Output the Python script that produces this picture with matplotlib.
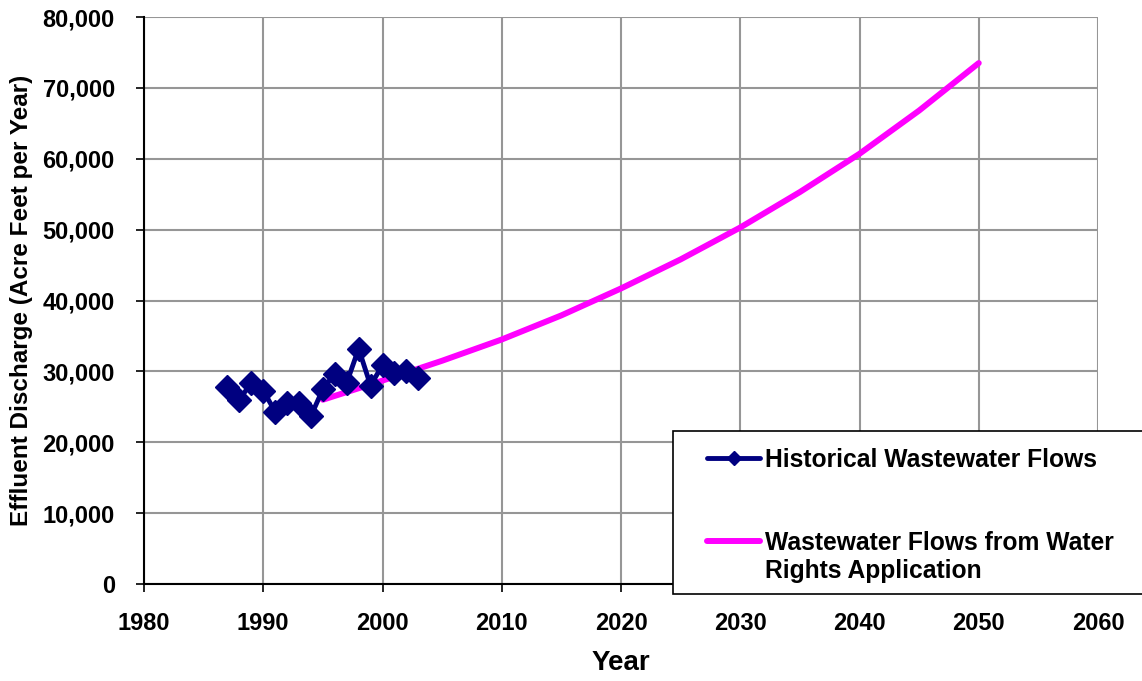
import matplotlib
matplotlib.use("Agg")
import matplotlib.pyplot as plt
from matplotlib.lines import Line2D
from matplotlib.patches import Rectangle
from matplotlib.ticker import FuncFormatter, MultipleLocator

plt.rcParams["font.family"] = ["Liberation Sans", "DejaVu Sans"]
plt.rcParams["font.weight"] = "bold"

# Historical effluent discharge (acre-feet per year)
hist_years = [1987, 1988, 1989, 1990, 1991, 1992, 1993, 1994, 1995,
              1996, 1997, 1998, 1999, 2000, 2001, 2002, 2003]
hist_flow = [27800, 26000, 28400, 27300, 24300, 25600, 25600, 23700, 27500,
             29700, 28400, 33200, 28000, 30900, 29800, 30100, 29000]

# Projected flows from the water rights application
proj_years = [1995, 2000, 2005, 2010, 2015, 2020, 2025, 2030, 2035, 2040, 2045, 2050]
proj_flow = [26000, 28700, 31500, 34500, 37900, 41700, 45800, 50300, 55300,
             60700, 66800, 73500]

hist_label = "Historical Wastewater Flows"
proj_label = "Wastewater Flows from Water\nRights Application"

navy = "#000080"
magenta = "#FF00FF"

W, H = 1142, 681
fig = plt.figure(figsize=(W / 100, H / 100), dpi=100)
ax = fig.add_axes([144 / W, 1 - 584 / H, (1098 - 144) / W, (584 - 17) / H])

ax.plot(proj_years, proj_flow, color=magenta, lw=4.3, solid_capstyle="round", zorder=3)
ax.plot(hist_years, hist_flow, color=navy, lw=3.5, marker="D", ms=12,
        mfc=navy, mec=navy, zorder=4)

ax.set_xlim(1980, 2060)
ax.set_ylim(0, 80000)
ax.xaxis.set_major_locator(MultipleLocator(10))
ax.yaxis.set_major_locator(MultipleLocator(10000))
ax.yaxis.set_major_formatter(FuncFormatter(lambda v, p: f"{int(v):,}"))

ax.grid(True, color="#969696", lw=1.5)
ax.set_axisbelow(True)
for s in ("top", "right"):
    ax.spines[s].set_visible(False)
for s in ("left", "bottom"):
    ax.spines[s].set_linewidth(1.5)
    ax.spines[s].set_color("black")

ax.tick_params(axis="both", direction="out", length=6, width=1.2, labelsize=17)
ax.tick_params(axis="x", pad=14)
ax.tick_params(axis="y", pad=15)

ax.set_xlabel("Year", fontsize=20, fontweight="bold")
ax.set_ylabel("Effluent Discharge (Acre Feet per Year)", fontsize=17.5,
              fontweight="bold")
W_ax, H_ax = 1098 - 144, 584 - 17
ax.xaxis.set_label_coords(0.5, -(650 - 584) / H_ax)
ax.yaxis.set_label_coords(-(144 - 33) / W_ax, 0.5)

# Legend box, anchored in figure pixels and running past the right edge
def fx(px):
    return px / W

def fy(py):
    return 1 - py / H

fig.add_artist(Rectangle((fx(673), fy(594)), fx(1200) - fx(673), fy(431) - fy(594),
                         transform=fig.transFigure, facecolor="white",
                         edgecolor="black", lw=1.2, zorder=10))
fig.add_artist(Line2D([fx(707), fx(760)], [fy(458), fy(458)], transform=fig.transFigure,
                      color=navy, lw=3.5, solid_capstyle="round", zorder=11))
fig.add_artist(Line2D([fx(733.5)], [fy(458)], transform=fig.transFigure, color=navy,
                      marker="D", ms=7.5, zorder=12))
fig.add_artist(Line2D([fx(707), fx(760)], [fy(541), fy(541)], transform=fig.transFigure,
                      color=magenta, lw=4.3, solid_capstyle="round", zorder=11))
fig.text(fx(765), fy(460), hist_label, fontsize=17.7, fontweight="bold",
         va="center", ha="left", zorder=12)
fig.text(fx(765), fy(557), proj_label, fontsize=17.7, fontweight="bold",
         va="center", ha="left", zorder=12)

fig.savefig("out.png", dpi=100)
